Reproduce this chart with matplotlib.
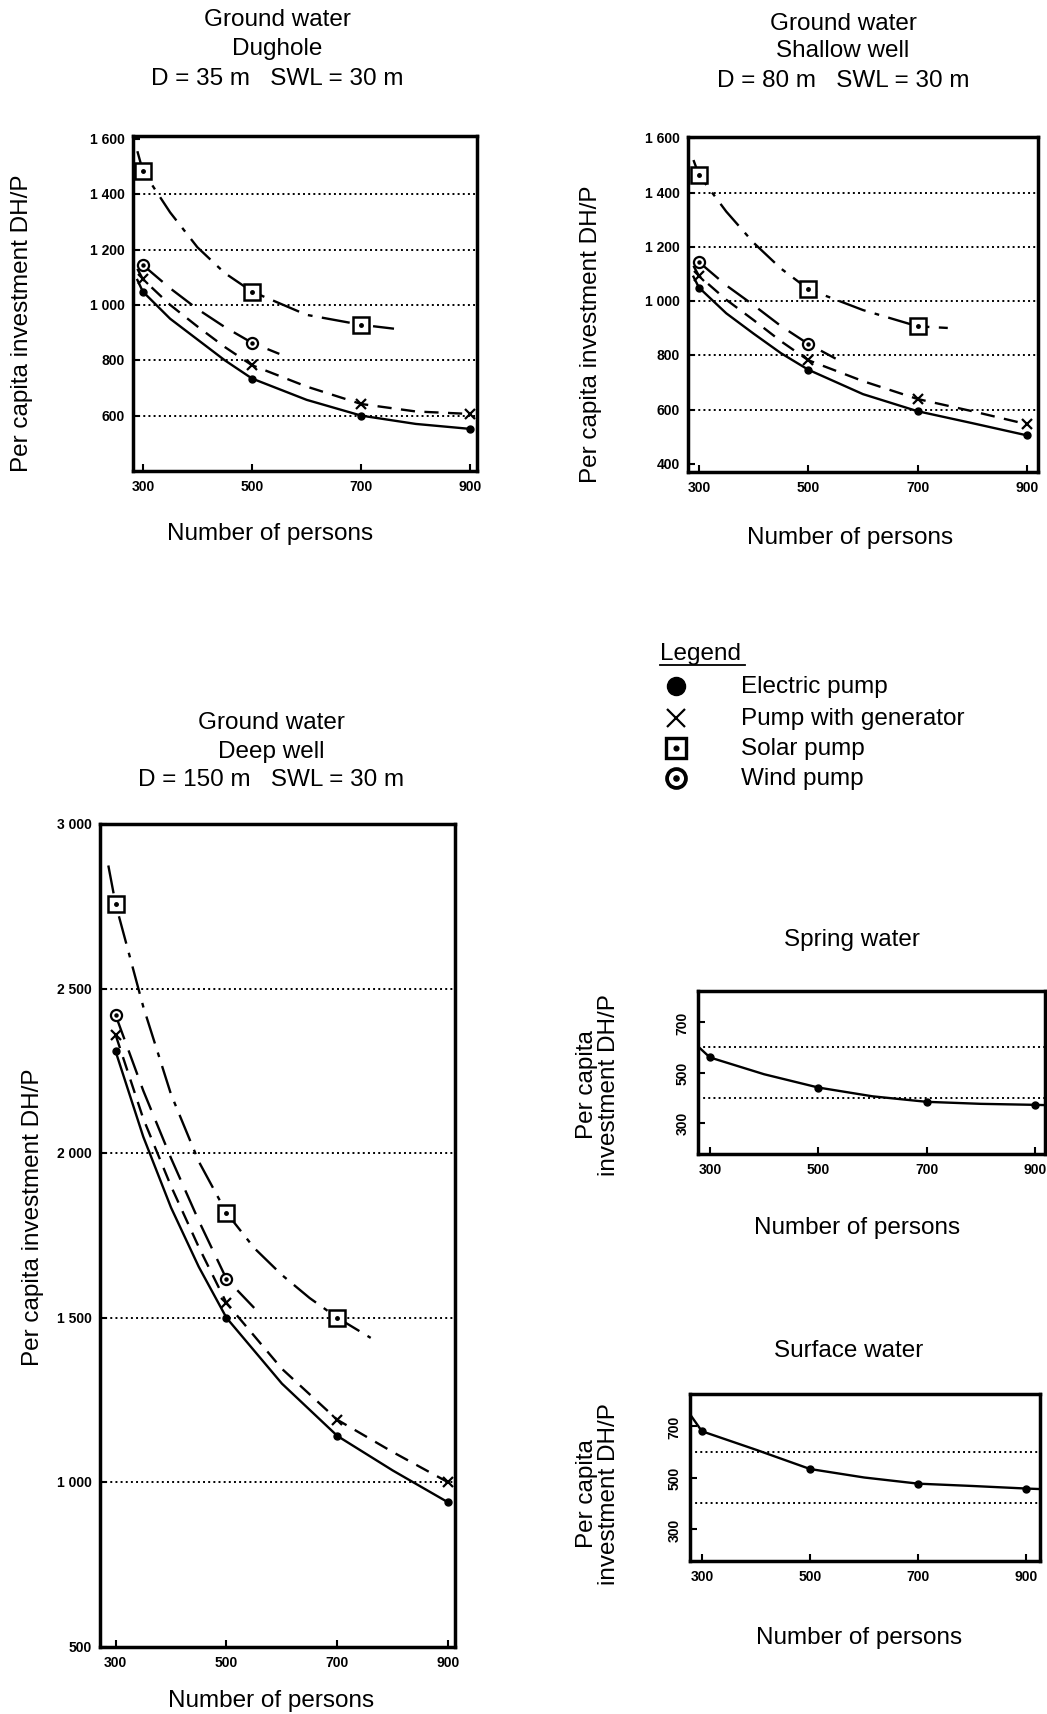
import matplotlib.pyplot as plt

W, H = 1047, 1715
plt.rcParams['font.family'] = ['Liberation Sans', 'DejaVu Sans']

# ---------------- data ----------------
persons_ticks = [300, 500, 700, 900]

# Ground water - Dughole
dug_elec_x = [290, 300, 350, 400, 450, 500, 600, 700, 800, 900]
dug_elec_y = [1090, 1048, 950, 875, 800, 734, 657, 600, 570, 552]
dug_gen_x = [290, 300, 350, 400, 450, 500, 600, 700, 800, 900]
dug_gen_y = [1130, 1093, 1000, 922, 848, 782, 705, 642, 615, 606]
dug_wind_x = [300, 350, 400, 450, 500, 550]
dug_wind_y = [1144, 1060, 985, 920, 863, 823]
dug_solar_x = [290, 300, 350, 400, 450, 500, 600, 700, 760]
dug_solar_y = [1555, 1484, 1334, 1208, 1115, 1048, 964, 928, 914]

# Ground water - Shallow well
sh_elec_x = [290, 300, 350, 400, 450, 500, 600, 700, 800, 900]
sh_elec_y = [1090, 1050, 955, 880, 808, 747, 657, 594, 550, 505]
sh_gen_x = [290, 300, 350, 400, 450, 500, 600, 700, 800, 900]
sh_gen_y = [1130, 1093, 1005, 930, 852, 782, 705, 639, 594, 546]
sh_wind_x = [300, 350, 400, 450, 500, 550]
sh_wind_y = [1144, 1058, 985, 908, 842, 788]
sh_solar_x = [290, 300, 350, 400, 450, 500, 600, 700, 755]
sh_solar_y = [1520, 1465, 1330, 1215, 1120, 1044, 967, 907, 901]

# Ground water - Deep well
dp_elec_x = [300, 350, 400, 450, 500, 600, 700, 800, 900]
dp_elec_y = [2310, 2050, 1835, 1655, 1500, 1300, 1141, 1036, 939]
dp_gen_x = [300, 350, 400, 450, 500, 600, 700, 800, 900]
dp_gen_y = [2360, 2105, 1900, 1715, 1545, 1345, 1190, 1092, 1000]
dp_wind_x = [300, 350, 400, 450, 500, 550]
dp_wind_y = [2420, 2190, 1985, 1795, 1618, 1530]
dp_solar_x = [287, 300, 350, 400, 450, 500, 550, 600, 650, 700, 760]
dp_solar_y = [2874, 2758, 2445, 2179, 1975, 1819, 1712, 1630, 1560, 1500, 1439]

# Spring water / Surface water (electric pump only)
spr_x = [280, 300, 400, 500, 600, 700, 800, 900, 918]
spr_y = [600, 560, 493, 440, 405, 383, 375, 371, 370]
srf_x = [280, 300, 400, 500, 600, 700, 800, 900, 925]
srf_y = [740, 680, 608, 533, 500, 476, 467, 457, 455]

gw_ticks = [600, 800, 1000, 1200, 1400, 1600]
gw_labels = ['600', '800', '1 000', '1 200', '1 400', '1 600']
sh_ticks = [400] + gw_ticks
sh_labels = ['400'] + gw_labels
dp_ticks = [500, 1000, 1500, 2000, 2500, 3000]
dp_labels = ['500', '1 000', '1 500', '2 000', '2 500', '3 000']
small_ticks = [300, 500, 700]
small_grid = [400, 600]

legend_labels = ['Electric pump', 'Pump with generator', 'Solar pump', 'Wind pump']

# ---------------- drawing ----------------
fig = plt.figure(figsize=(W / 100, H / 100), dpi=100)

ov = fig.add_axes([0, 0, 1, 1])
ov.set_xlim(0, W)
ov.set_ylim(H, 0)
ov.axis('off')

FS = 17.5
LINES = {
    'elec': '-',
    'gen': (0, (6, 4)),
    'wind': (0, (11, 5)),
    'solar': (0, (12, 4, 2, 4)),
}


def panel(l, t, r, b):
    ax = fig.add_axes([l / W, 1 - b / H, (r - l) / W, (b - t) / H])
    for s in ax.spines.values():
        s.set_linewidth(2.5)
    ax.tick_params(direction='in', length=5, width=1.5, labelsize=10, pad=6)
    return ax


def marker(ax, kind, x, y, k=1.0):
    if kind == 'elec':
        ax.plot(x, y, 'o', color='black', ms=5 * k, ls='none', zorder=4)
    elif kind == 'gen':
        ax.plot(x, y, 'x', color='black', ms=7 * k, mew=1.6, ls='none', zorder=4)
    elif kind == 'solar':
        ax.plot(x, y, 's', mfc='white', mec='black', ms=11 * k, mew=1.8 * k, ls='none', zorder=4)
        ax.plot(x, y, 'o', color='black', ms=2.5 * k, ls='none', zorder=5)
    elif kind == 'wind':
        ax.plot(x, y, 'o', mfc='white', mec='black', ms=8 * k, mew=1.6 * k, ls='none', zorder=4)
        ax.plot(x, y, 'o', color='black', ms=2.2 * k, ls='none', zorder=5)


def series(ax, kind, xs, ys, mx):
    ax.plot(xs, ys, color='black', lw=1.7, ls=LINES[kind], zorder=2)
    my = [ys[xs.index(v)] for v in mx]
    marker(ax, kind, mx, my)


def finish(ax, xlim, ylim, yt, yl, grid, rot=0):
    ax.set_xlim(*xlim)
    ax.set_ylim(*ylim)
    ax.set_xticks(persons_ticks)
    ax.set_xticklabels([str(v) for v in persons_ticks], fontweight='bold')
    ax.set_yticks(yt)
    ax.set_yticklabels(yl, fontweight='bold', rotation=rot, va='center')
    for g in grid:
        ax.axhline(g, linestyle=':', color='black', linewidth=1.4, zorder=1)


# Dughole
ax1 = panel(133, 137, 477, 472)
series(ax1, 'elec', dug_elec_x, dug_elec_y, [300, 500, 700, 900])
series(ax1, 'gen', dug_gen_x, dug_gen_y, [300, 500, 700, 900])
series(ax1, 'wind', dug_wind_x, dug_wind_y, [300, 500])
series(ax1, 'solar', dug_solar_x, dug_solar_y, [300, 500, 700])
finish(ax1, (282, 912), (400, 1610), gw_ticks, gw_labels, gw_ticks[:-1])

# Shallow well
ax2 = panel(688, 138, 1038, 473)
series(ax2, 'elec', sh_elec_x, sh_elec_y, [300, 500, 700, 900])
series(ax2, 'gen', sh_gen_x, sh_gen_y, [300, 500, 700, 900])
series(ax2, 'wind', sh_wind_x, sh_wind_y, [300, 500])
series(ax2, 'solar', sh_solar_x, sh_solar_y, [300, 500, 700])
finish(ax2, (280, 920), (370, 1605), sh_ticks, sh_labels, gw_ticks[:-1])

# Deep well
ax3 = panel(100, 825, 455, 1648)
series(ax3, 'elec', dp_elec_x, dp_elec_y, [300, 500, 700, 900])
series(ax3, 'gen', dp_gen_x, dp_gen_y, [300, 500, 700, 900])
series(ax3, 'wind', dp_wind_x, dp_wind_y, [300, 500])
series(ax3, 'solar', dp_solar_x, dp_solar_y, [300, 500, 700])
finish(ax3, (272, 912), (500, 3000), dp_ticks, dp_labels, dp_ticks[1:-1])

# Spring water
ax4 = panel(698, 992, 1045, 1155)
series(ax4, 'elec', spr_x, spr_y, [300, 500, 700, 900])
finish(ax4, (278, 918), (175, 825), small_ticks, [str(v) for v in small_ticks], small_grid, rot=90)

# Surface water
ax5 = panel(690, 1395, 1040, 1562)
series(ax5, 'elec', srf_x, srf_y, [300, 500, 700, 900])
finish(ax5, (278, 925), (175, 825), small_ticks, [str(v) for v in small_ticks], small_grid, rot=90)

# ---------------- texts ----------------
def ctext(x, y, s, **kw):
    ov.text(x, y, s, ha='center', va='center', fontsize=FS, **kw)


for x0, lines, ys in [
    (277, ['Ground water', 'Dughole', 'D = 35 m   SWL = 30 m'], [20, 49, 79]),
    (843, ['Ground water', 'Shallow well', 'D = 80 m   SWL = 30 m'], [24, 51, 81]),
    (271, ['Ground water', 'Deep well', 'D = 150 m   SWL = 30 m'], [723, 752, 780]),
]:
    for s, y in zip(lines, ys):
        ctext(x0, y, s)

ctext(852, 940, 'Spring water')
ctext(849, 1351, 'Surface water')

ctext(270, 534, 'Number of persons')
ctext(850, 538, 'Number of persons')
ctext(271, 1701, 'Number of persons')
ctext(857, 1228, 'Number of persons')
ctext(859, 1638, 'Number of persons')

ctext(22, 323, 'Per capita investment DH/P', rotation=90)
ctext(591, 334, 'Per capita investment DH/P', rotation=90)
ctext(33, 1217, 'Per capita investment DH/P', rotation=90)
ctext(598, 1085, 'Per capita\ninvestment DH/P', rotation=90, linespacing=1.0)
ctext(598, 1494, 'Per capita\ninvestment DH/P', rotation=90, linespacing=1.0)

# legend
ov.text(660, 654, 'Legend', ha='left', va='center', fontsize=FS)
ov.plot([660, 745], [666, 666], color='black', lw=1.3)
leg_y = [687, 719, 749, 779]
leg_k = {'elec': 2.6, 'gen': 1.8, 'solar': 1.35, 'wind': 1.7}
for kind, lab, y in zip(['elec', 'gen', 'solar', 'wind'], legend_labels, leg_y):
    marker(ov, kind, [676], [y], leg_k[kind])
    ov.text(741, y, lab, ha='left', va='center', fontsize=FS)

fig.savefig('out.png', dpi=100)
